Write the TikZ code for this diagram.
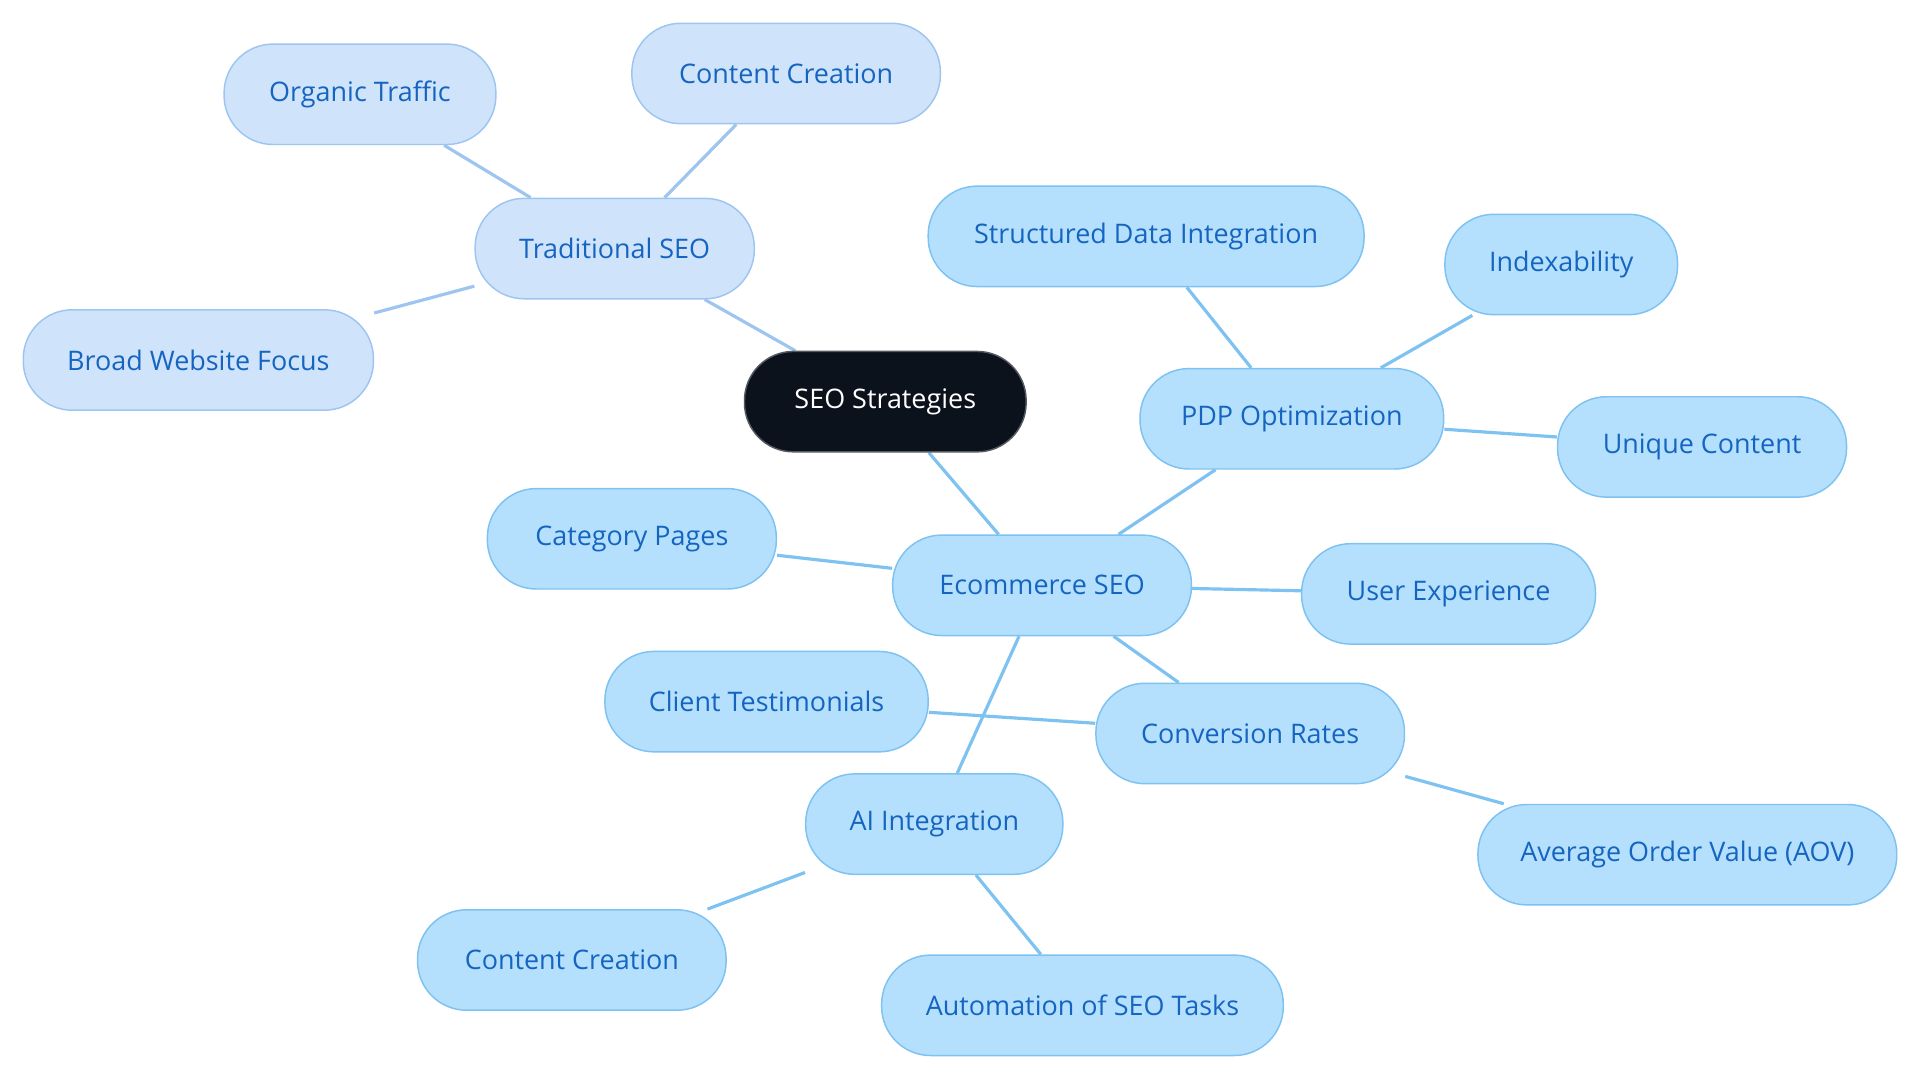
\documentclass[tikz,border=0pt]{standalone}
\usepackage{fontspec}
\setmainfont{Open Sans}
\usetikzlibrary{backgrounds}

\definecolor{leafFill}{HTML}{B5E0FD}
\definecolor{leafLine}{HTML}{7DC2F0}
\definecolor{leafText}{HTML}{1565C0}
\definecolor{tradFill}{HTML}{CFE3FB}
\definecolor{tradLine}{HTML}{9EC5F0}
\definecolor{rootFill}{HTML}{0B121B}

\tikzset{
	topic/.style={draw=leafLine, fill=leafFill, text=leafText, rounded corners=20pt,
		minimum height=41pt, inner sep=0pt, line width=0.6pt, font=\fontsize{11}{13}\selectfont},
	tradtopic/.style={topic, draw=tradLine, fill=tradFill},
	root/.style={topic, draw=rootFill!70, fill=rootFill, text=white},
	link/.style={draw=leafLine, line width=1.3pt},
	tradlink/.style={draw=tradLine, line width=1.3pt}
}

\begin{document}
\begin{tikzpicture}[x=0.5pt, y=-0.5pt]

	\useasboundingbox (0,0) rectangle (1568,884);

	\node[root, minimum width=115pt] (seo) at (723,328) {SEO Strategies};

	% traditional branch
	\node[tradtopic, minimum width=114pt] (trad) at (502,203) {Traditional SEO};
	\node[tradtopic, minimum width=111pt] (organic) at (294,77) {Organic Traffic};
	\node[tradtopic, minimum width=126pt] (creationtop) at (642,60) {Content Creation};
	\node[tradtopic, minimum width=143pt] (broad) at (162,294) {Broad Website Focus};

	% ecommerce branch
	\node[topic, minimum width=122pt] (ecom) at (851,478) {Ecommerce SEO};
	\node[topic, minimum width=124pt] (pdp) at (1055,342) {PDP Optimization};
	\node[topic, minimum width=178pt] (structured) at (936,193) {Structured Data Integration};
	\node[topic, minimum width=95pt] (index) at (1275,216) {Indexability};
	\node[topic, minimum width=118pt] (unique) at (1390,365) {Unique Content};
	\node[topic, minimum width=118pt] (category) at (516,440) {Category Pages};
	\node[topic, minimum width=120pt] (ux) at (1183,485) {User Experience};
	\node[topic, minimum width=126pt] (conv) at (1021,599) {Conversion Rates};
	\node[topic, minimum width=132pt] (client) at (626,573) {Client Testimonials};
	\node[topic, minimum width=171pt] (aov) at (1378,698) {Average Order Value (AOV)};
	\node[topic, minimum width=105pt] (ai) at (763,673) {AI Integration};
	\node[topic, minimum width=126pt] (creationbot) at (467,784) {Content Creation};
	\node[topic, minimum width=164pt] (auto) at (884,821) {Automation of SEO Tasks};

	\begin{scope}[on background layer]
		\draw[tradlink] (seo) -- (trad);
		\draw[link] (seo) -- (ecom);
		\foreach \leaf in {organic, creationtop, broad}
			\draw[tradlink] (trad) -- (\leaf);
		\foreach \leaf in {pdp, category, ux, conv, ai}
			\draw[link] (ecom) -- (\leaf);
		\foreach \leaf in {structured, index, unique}
			\draw[link] (pdp) -- (\leaf);
		\draw[link] (conv) -- (client);
		\draw[link] (conv) -- (aov);
		\draw[link] (ai) -- (creationbot);
		\draw[link] (ai) -- (auto);
	\end{scope}

\end{tikzpicture}
\end{document}
